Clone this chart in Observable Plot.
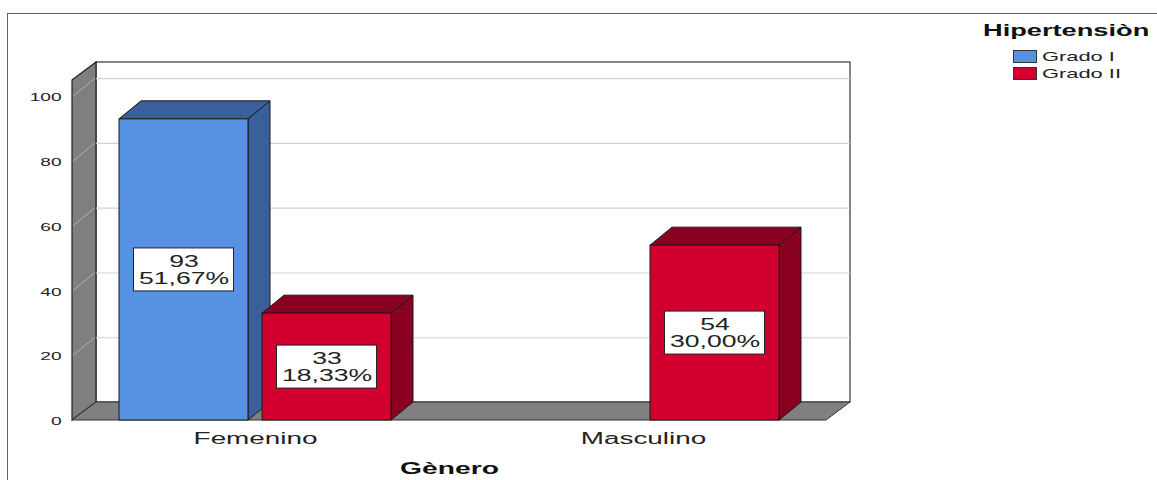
<!DOCTYPE html>
<html>
<head>
<meta charset="utf-8">
<script src="https://cdn.jsdelivr.net/npm/d3@7"></script>
<script src="https://cdn.jsdelivr.net/npm/@observablehq/plot@0.6"></script>
<style>
  html, body { margin: 0; padding: 0; background: #fff; }
  #chart { position: relative; width: 1157px; height: 480px; overflow: hidden;
           font-family: "Liberation Sans", Arial, sans-serif; color: #222; }
  #chart svg { position: absolute; left: 0; top: 0; }
  #chart svg#leyenda { left: 983px; top: 18px; overflow: visible; }
  #marco { position: absolute; left: 7px; top: 13px; width: 1300px; height: 600px;
           border-left: 1px solid #4f6592; border-top: 1px solid #4f6592; pointer-events: none; }
</style>
</head>
<body>
<div id="chart"></div>
<script>
// Casos de hipertensión por género y grado
const genero = ["Femenino", "Masculino"];
const grados = ["Grado I", "Grado II"];
const casosGradoI = [93, 0];
const casosGradoII = [33, 54];
const totalCasos = 180;
const yTicks = [0, 20, 40, 60, 80, 100];
const colores = ["#5791e1", "#d2002e"];
const coloresSombra = ["#3a5f9a", "#8a0021"];

const filas = genero.flatMap((g, i) => [
  {genero: g, grado: grados[0], casos: casosGradoI[i]},
  {genero: g, grado: grados[1], casos: casosGradoII[i]}
]).filter(d => d.casos > 0);

const porcentaje = d => (d.casos / totalCasos * 100).toFixed(2).replace(".", ",") + "%";

// Layout
const W = 1157, H = 480;
const mL = 72, mR = 331, mT = 80, mB = 60;
const padIn = 0.3, padOut = 0.12;
const GAP = 14;                 // space between the two bars of a group
const DX = 24, DY = 18;         // depth of walls and floor
const BDX = 22, BDY = 18;       // depth of the bars
const bandW = (W - mL - mR) / (genero.length - padIn + 2 * padOut) * (1 - padIn);
const inset = (bandW + GAP) / 2;
const barW = (bandW - GAP) / 2;
const centro = (barW + GAP) / 2;

function subBanda(scales, d) {
  const bw = scales.x.bandwidth();
  const w = (bw - GAP) / 2;
  const x0 = scales.x(d.genero) + (d.grado === grados[0] ? 0 : w + GAP);
  return [x0, x0 + w];
}

// Back wall, left wall and floor
function paredes(index, scales, values, dim) {
  const L = dim.marginLeft, R = dim.width - dim.marginRight;
  const y0 = scales.y(0), yT = dim.marginTop;
  const g = d3.create("svg:g");
  g.append("rect")
    .attr("x", L + DX).attr("y", yT - DY)
    .attr("width", R - L).attr("height", y0 - yT)
    .attr("fill", "#fff").attr("stroke", "#333").attr("stroke-width", 1.2);
  g.append("path")
    .attr("d", `M${L},${yT}L${L + DX},${yT - DY}L${L + DX},${y0 - DY}L${L},${y0}Z`)
    .attr("fill", "#7f7f7f").attr("stroke", "#222").attr("stroke-width", 1.2);
  g.append("path")
    .attr("d", `M${L},${y0}L${L + DX},${y0 - DY}L${R + DX},${y0 - DY}L${R},${y0}Z`)
    .attr("fill", "#808080").attr("stroke", "#333").attr("stroke-width", 1);
  return g.node();
}

// Grid lines across the grey left wall
function lineasPared(index, scales, values, dim) {
  const L = dim.marginLeft;
  const g = d3.create("svg:g").attr("stroke", "#d6d6d6").attr("stroke-opacity", 0.55);
  for (const v of yTicks.filter(v => v > 0)) {
    const y = scales.y(v);
    g.append("line").attr("x1", L + 1).attr("y1", y).attr("x2", L + DX - 1).attr("y2", y - DY);
  }
  return g.node();
}

// Top and side faces of the bars of one grade
function volumen(k) {
  return (index, scales) => {
    const g = d3.create("svg:g").attr("stroke", "#1a1a1a").attr("stroke-width", 1)
      .attr("stroke-linejoin", "round").attr("fill", coloresSombra[k]);
    for (const d of filas.filter(d => d.grado === grados[k])) {
      const [x0, x1] = subBanda(scales, d);
      const yt = scales.y(d.casos), yb = scales.y(0);
      g.append("path").attr("d", `M${x1},${yt}L${x1 + BDX},${yt - BDY}L${x1 + BDX},${yb - BDY}L${x1},${yb}Z`);
      g.append("path").attr("d", `M${x0},${yt}L${x0 + BDX},${yt - BDY}L${x1 + BDX},${yt - BDY}L${x1},${yt}Z`);
    }
    return g.node();
  };
}

// White boxes behind the value labels
function cajas(index, scales) {
  const g = d3.create("svg:g").attr("fill", "#fff").attr("stroke", "#222").attr("stroke-width", 1);
  for (const d of filas) {
    const [x0, x1] = subBanda(scales, d);
    const cx = (x0 + x1) / 2, cy = scales.y(d.casos / 2);
    g.append("rect").attr("x", cx - 50).attr("y", cy - 21.5).attr("width", 100).attr("height", 43);
  }
  return g.node();
}

const plot = Plot.plot({
  width: W, height: H,
  marginLeft: mL, marginRight: mR, marginTop: mT, marginBottom: mB,
  style: {fontFamily: '"Liberation Sans", Arial, sans-serif', color: "#222",
          background: "transparent", overflow: "visible"},
  x: {domain: genero, paddingInner: padIn, paddingOuter: padOut},
  y: {domain: [0, 105]},
  color: {domain: grados, range: colores},
  marks: [
    paredes,
    Plot.ruleY(yTicks.filter(v => v > 0), {dx: DX, dy: -DY, stroke: "#d2d2d2", strokeWidth: 1.2}),
    lineasPared,
    ...grados.flatMap((g, k) => [
      volumen(k),
      Plot.barY(filas.filter(d => d.grado === g), {
        x: "genero", y: "casos", fill: "grado",
        stroke: "#1a1a1a", strokeWidth: 1,
        insetLeft: k ? inset : 0, insetRight: k ? 0 : inset
      })
    ]),
    cajas,
    ...grados.map((g, k) => Plot.text(filas.filter(d => d.grado === g), {
      x: "genero", y: d => d.casos / 2, dx: k ? centro : -centro,
      text: d => `${d.casos}\n${porcentaje(d)}`,
      fontSize: 16, lineHeight: 1.06, fill: "#222"
    })),
    Plot.axisY(yTicks, {tickSize: 0, tickPadding: 11, fontSize: 11.5, dy: 1, label: null, fill: "#222"}),
    Plot.axisX({tickSize: 0, tickPadding: 12, fontSize: 16, label: null, fill: "#222"}),
    Plot.text(["Gènero"], {frameAnchor: "bottom", dy: 53, fontSize: 17, fontWeight: "bold", fill: "#111"})
  ]
});

const chart = document.getElementById("chart");
chart.append(plot);

// Border
const marco = document.createElement("div");
marco.id = "marco";
chart.append(marco);

// Legend
const escalaColor = plot.scale("color");
const leyenda = d3.select(chart).append("svg").attr("id", "leyenda")
  .attr("width", 174).attr("height", 70)
  .style("font-family", '"Liberation Sans", Arial, sans-serif');
leyenda.append("text").attr("x", 0).attr("y", 18)
  .attr("font-weight", "bold").attr("font-size", 16).attr("fill", "#111")
  .attr("data-estirar", 1.7).text("Hipertensiòn");
grados.forEach((g, i) => {
  const y = 32 + i * 17;
  leyenda.append("rect").attr("x", 30.5).attr("y", y + 0.5).attr("width", 23).attr("height", 12)
    .attr("fill", escalaColor.apply(g)).attr("stroke", "#333");
  leyenda.append("text").attr("x", 59).attr("y", y + 11)
    .attr("font-size", 13.5).attr("fill", "#222").attr("data-estirar", 1.62).text(g);
});

// Wide lettering
d3.select(chart).selectAll("svg text").each(function() {
  const grupo = this.closest("g[aria-label]");
  const estirar = this.hasAttribute("data-estirar") ? +this.getAttribute("data-estirar")
    : grupo && grupo.getAttribute("aria-label") === "x-axis tick label" ? 1.74 : 1.66;
  const tspans = this.querySelectorAll("tspan");
  const objetivos = tspans.length ? Array.from(tspans) : [this];
  for (const t of objetivos) {
    const len = t.getComputedTextLength();
    if (len > 0) {
      t.setAttribute("textLength", len * estirar);
      t.setAttribute("lengthAdjust", "spacingAndGlyphs");
    }
  }
});
</script>
</body>
</html>
